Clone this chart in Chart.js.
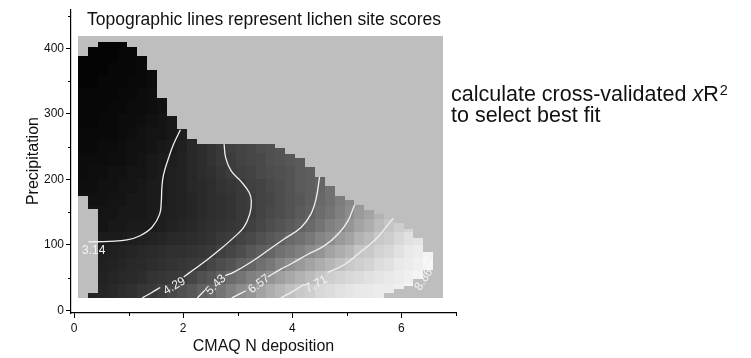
<!DOCTYPE html>
<html>
<head>
<meta charset="utf-8">
<script src="https://cdn.jsdelivr.net/npm/chart.js@4/dist/chart.umd.min.js"></script>
<style>
  html, body { margin: 0; padding: 0; background: #ffffff; }
  #wrap { width: 751px; height: 358px; }
</style>
</head>
<body>
<div id="wrap"><canvas id="chart" width="751" height="358"></canvas></div>
<script>
// ---- data ---------------------------------------------------------------

// CMAQ N deposition bin centres of the fitted surface
const depositionBins = [0.17, 0.35, 0.53, 0.71, 0.89, 1.07, 1.25, 1.43, 1.61, 1.80,
  1.98, 2.16, 2.34, 2.52, 2.70, 2.88, 3.06, 3.24, 3.42, 3.60,
  3.78, 3.96, 4.14, 4.33, 4.51, 4.69, 4.87, 5.05, 5.23, 5.41,
  5.59, 5.77, 5.95, 6.13, 6.31, 6.49];

// precipitation band centres of the fitted surface
const precipBands = [30, 50, 70, 90, 110, 130, 150, 170, 190, 210,
  230, 250, 270, 290, 310, 330, 350, 370, 390, 410];

// precipitation spans covered by the surface in each deposition bin
const binCoverage = [
  [[175, 388]], [[19, 26], [155, 402]], [[19, 410]], [[19, 410]], [[19, 410]],
  [[19, 402]], [[19, 388]], [[19, 367]], [[19, 325]], [[19, 297]],
  [[19, 277]], [[19, 261]], [[19, 254]], [[19, 254]], [[19, 254]],
  [[19, 254]], [[19, 254]], [[19, 254]], [[19, 254]], [[19, 254]],
  [[19, 248]], [[19, 239]], [[19, 232]], [[19, 219]], [[19, 204]],
  [[19, 190]], [[19, 175]], [[19, 168]], [[19, 161]], [[19, 154]],
  [[19, 147]], [[26, 141]], [[33, 133]], [[38, 124]], [[48, 111]],
  [[62, 89]]
];

// extent of the modelled window (deposition, precipitation)
const surfaceDeposition = [0.079, 6.765];
const surfacePrecip = [19, 418.6];

// fitted lichen site score: one row per precipitation band, one entry per deposition bin
const siteScores = [
  [null,3.4,3.5,3.6,3.8,3.9,4.1,4.2,4.4,4.7,4.9,5.1,5.4,5.6,5.9,6.2,6.5,6.7,7.0,7.2,7.4,7.6,7.8,7.9,8.1,8.2,8.3,8.4,8.5,8.5,8.6,8.6,8.7,8.8],
  [null,null,3.4,3.5,3.6,3.7,3.8,4.0,4.1,4.2,4.3,4.6,4.9,5.1,5.4,5.7,5.9,6.2,6.4,6.7,6.9,7.1,7.3,7.5,7.7,7.9,8.0,8.1,8.2,8.3,8.4,8.5,8.6,8.7,8.8],
  [null,null,3.3,3.4,3.5,3.6,3.7,3.8,3.9,4.0,4.1,4.2,4.3,4.6,4.8,5.0,5.3,5.5,5.8,6.0,6.3,6.6,6.8,7.0,7.2,7.4,7.6,7.8,7.9,8.0,8.2,8.3,8.5,8.6,8.7,8.9],
  [null,null,3.2,3.3,3.4,3.5,3.6,3.7,3.8,3.9,3.9,4.0,4.1,4.2,4.4,4.6,4.8,5.1,5.3,5.5,5.8,6.0,6.2,6.5,6.7,7.0,7.2,7.4,7.7,7.8,8.0,8.1,8.3,8.5,8.6,8.8],
  [null,null,3.1,3.1,3.1,3.2,3.3,3.4,3.5,3.6,3.7,3.8,3.9,4.0,4.2,4.3,4.5,4.7,4.9,5.1,5.3,5.6,5.8,6.0,6.3,6.5,6.8,7.0,7.3,7.5,7.8,7.9,8.1,8.3,8.4],
  [null,null,2.9,3.0,3.0,3.1,3.1,3.1,3.2,3.4,3.5,3.6,3.8,3.9,4.0,4.1,4.2,4.4,4.6,4.8,5.0,5.2,5.4,5.6,5.9,6.2,6.4,6.7,7.0,7.2,7.5,7.7,7.9,8.0],
  [null,2.9,2.9,2.9,3.0,3.0,3.0,3.1,3.2,3.3,3.4,3.5,3.7,3.8,3.9,4.0,4.2,4.3,4.5,4.7,4.8,5.0,5.2,5.4,5.7,5.9,6.2,6.5,6.8,7.0,7.3,7.5],
  [2.8,2.8,2.8,2.9,2.9,3.0,3.0,3.1,3.1,3.3,3.4,3.5,3.7,3.8,3.9,4.0,4.2,4.3,4.5,4.6,4.8,5.0,5.1,5.3,5.6,5.8,6.1,6.4,6.7],
  [2.7,2.7,2.8,2.8,2.9,2.9,3.0,3.1,3.1,3.3,3.4,3.6,3.7,3.8,4.0,4.1,4.2,4.4,4.5,4.7,4.8,5.0,5.2,5.3,5.5,5.8],
  [2.6,2.7,2.7,2.8,2.8,2.9,2.9,3.0,3.1,3.3,3.4,3.6,3.8,3.9,4.1,4.3,4.4,4.5,4.7,4.8,4.9,5.0,5.2,5.3,5.4],
  [2.6,2.6,2.6,2.7,2.7,2.8,2.9,3.0,3.1,3.2,3.4,3.6,3.8,4.0,4.2,4.3,4.5,4.6,4.7,4.9,5.0,5.1,5.2],
  [2.5,2.5,2.6,2.6,2.7,2.8,2.8,2.9,3.0,3.1,3.3,3.6,3.8,4.0,4.2,4.4,4.5,4.6,4.8,4.9,5.0],
  [2.5,2.5,2.5,2.5,2.6,2.7,2.8,2.9,2.9,3.0,3.2,3.4],
  [2.4,2.4,2.5,2.5,2.6,2.6,2.7,2.8,2.9,3.0],
  [2.4,2.4,2.4,2.5,2.5,2.6,2.6,2.7,2.8],
  [2.4,2.4,2.4,2.4,2.5,2.5,2.6,2.7,2.8],
  [2.3,2.3,2.4,2.4,2.4,2.5,2.5,2.6],
  [2.3,2.3,2.3,2.4,2.4,2.4,2.5,2.6],
  [2.3,2.3,2.3,2.3,2.4,2.4,2.5],
  [null,2.3,2.3,2.3,2.3,2.4]
];

// contour levels of the site score and their traced paths (null = break for the label)
const contourLevels = [3.14, 4.29, 5.43, 6.57, 7.71, 8.86];
const contourPaths = [
  [[0.26,104.5],[0.66,105.5],[0.97,107.6],[1.21,114],[1.43,127],[1.57,147],[1.60,167],[1.61,187],[1.64,207],[1.73,232],[1.82,253],[1.95,276]],
  [[1.25,19],[1.42,27],[1.58,35],null,[2.01,51],[2.19,62],[2.44,77.3],[2.69,94],[2.93,111.5],[3.11,126.7],[3.22,147],[3.25,167],[3.21,180],[3.06,197],[2.88,213],[2.78,233],[2.75,254]],
  [[2.26,19],[2.40,31],null,[2.77,53],[2.93,58.5],[3.24,73.6],[3.55,91.4],[3.85,109],[4.16,126.7],[4.34,147],[4.44,172],[4.50,204]],
  [[2.89,19],[3.15,30],null,[3.55,51],[3.79,63],[3.98,71.2],[4.28,85.3],[4.59,98.9],[4.84,116.7],[5.02,136.8],[5.14,161]],
  [[3.79,19],[4.02,29.5],[4.22,40],null,[4.65,58],[4.96,70],[5.26,90],[5.51,107],[5.69,124],[5.85,141]],
  [[6.40,62],[6.58,87]]
];

// axis tick values
const xTickValues = [0, 1, 2, 3, 4, 5, 6, 7];
const yTickValues = [0, 50, 100, 150, 200, 250, 300, 350, 400, 450];

// ---- presentation -------------------------------------------------------

const FONT = '"Liberation Sans", Arial, Helvetica, sans-serif';
Chart.defaults.font.family = FONT;
Chart.defaults.color = '#111111';

// score -> grey level ramp of the surface
const greyRamp = [[2.3,4],[2.7,14],[3.14,28],[3.7,42],[4.29,60],[4.9,80],[5.43,98],[6.0,120],
  [6.57,143],[7.14,170],[7.71,197],[8.3,225],[8.86,246],[9.2,252]];
function scoreColour(v) {
  let g = greyRamp[greyRamp.length - 1][1];
  if (v <= greyRamp[0][0]) g = greyRamp[0][1];
  else {
    for (let i = 1; i < greyRamp.length; i++) {
      if (v <= greyRamp[i][0]) {
        const [v0, g0] = greyRamp[i - 1], [v1, g1] = greyRamp[i];
        g = g0 + (g1 - g0) * (v - v0) / (v1 - v0);
        break;
      }
    }
  }
  g = Math.round(g);
  return `rgb(${g},${g},${g})`;
}

// label placement for each contour level (data units, rotation in degrees)
const contourLabelSpots = [
  { x: 0.36, y: 91, angle: 0 },
  { x: 1.84, y: 37, angle: -31 },
  { x: 2.60, y: 39, angle: -45 },
  { x: 3.39, y: 40, angle: -37 },
  { x: 4.44, y: 40, angle: -28 },
  { x: 6.41, y: 47, angle: -57 }
];

const surfacePlugin = {
  id: 'surface',
  beforeDatasetsDraw(chart) {
    const { ctx, scales: { x, y } } = chart;
    ctx.save();
    // modelled window
    const wx0 = Math.round(x.getPixelForValue(surfaceDeposition[0]));
    const wx1 = Math.round(x.getPixelForValue(surfaceDeposition[1]));
    const wy0 = Math.round(y.getPixelForValue(surfacePrecip[1]));
    const wy1 = Math.round(y.getPixelForValue(surfacePrecip[0]));
    ctx.fillStyle = '#bebebe';
    ctx.fillRect(wx0, wy0, wx1 - wx0, wy1 - wy0);

    const n = depositionBins.length;
    const edges = [];
    edges.push(depositionBins[0] - (depositionBins[1] - depositionBins[0]) / 2);
    for (let i = 1; i < n; i++) edges.push((depositionBins[i - 1] + depositionBins[i]) / 2);
    edges.push(depositionBins[n - 1] + (depositionBins[n - 1] - depositionBins[n - 2]) / 2);

    const m = precipBands.length;
    for (let i = 0; i < n; i++) {
      const px0 = Math.round(x.getPixelForValue(edges[i]));
      const px1 = Math.round(x.getPixelForValue(edges[i + 1]));
      for (const [lo, hi] of binCoverage[i]) {
        for (let j = 0; j < m; j++) {
          const v = siteScores[j][i];
          if (v === null || v === undefined) continue;
          const b0 = j === 0 ? -Infinity : (precipBands[j - 1] + precipBands[j]) / 2;
          const b1 = j === m - 1 ? Infinity : (precipBands[j] + precipBands[j + 1]) / 2;
          const c0 = Math.max(lo, b0), c1 = Math.min(hi, b1);
          if (c1 <= c0) continue;
          const py0 = Math.round(y.getPixelForValue(c1));
          const py1 = Math.round(y.getPixelForValue(c0));
          ctx.fillStyle = scoreColour(v);
          ctx.fillRect(px0, py0, px1 - px0, py1 - py0);
        }
      }
    }
    ctx.restore();
  },
  afterDatasetsDraw(chart) {
    const { ctx, scales: { x, y } } = chart;
    ctx.save();
    ctx.fillStyle = '#f4f4f4';
    ctx.font = `12px ${FONT}`;
    ctx.textAlign = 'center';
    ctx.textBaseline = 'middle';
    contourLevels.forEach((lev, k) => {
      const spot = contourLabelSpots[k];
      ctx.save();
      ctx.translate(x.getPixelForValue(spot.x), y.getPixelForValue(spot.y));
      ctx.rotate(spot.angle * Math.PI / 180);
      ctx.fillText(lev.toFixed(2), 0, 0);
      ctx.restore();
    });
    ctx.restore();
  },
  afterDraw(chart) {
    const { ctx, chartArea, scales: { x, y } } = chart;
    ctx.save();
    // minor tick marks
    ctx.strokeStyle = '#000000';
    ctx.lineWidth = 1;
    ctx.beginPath();
    xTickValues.filter(v => v % 2 !== 0).forEach(v => {
      const px = Math.round(x.getPixelForValue(v)) + 0.5;
      ctx.moveTo(px, chartArea.bottom);
      ctx.lineTo(px, chartArea.bottom + 3);
    });
    yTickValues.filter(v => v % 100 !== 0).forEach(v => {
      const py = Math.round(y.getPixelForValue(v)) + 0.5;
      ctx.moveTo(chartArea.left - 3, py);
      ctx.lineTo(chartArea.left, py);
    });
    ctx.stroke();

    // heading inside the plot
    ctx.fillStyle = '#111111';
    ctx.font = `17.5px ${FONT}`;
    ctx.textAlign = 'center';
    ctx.textBaseline = 'middle';
    ctx.fillText('Topographic lines represent lichen site scores', 264, 20);

    // side note
    const SIZE = 21.5;
    ctx.textAlign = 'left';
    ctx.textBaseline = 'alphabetic';
    let tx = 451;
    const part1 = 'calculate cross-validated ';
    ctx.font = `${SIZE}px ${FONT}`;
    ctx.fillText(part1, tx, 101);
    tx += ctx.measureText(part1).width;
    ctx.font = `italic ${SIZE}px ${FONT}`;
    ctx.fillText('x', tx, 101);
    tx += ctx.measureText('x').width;
    ctx.font = `${SIZE}px ${FONT}`;
    ctx.fillText('R', tx, 101);
    tx += ctx.measureText('R').width + 1;
    ctx.font = `14.5px ${FONT}`;
    ctx.fillText('2', tx, 94.5);
    ctx.font = `${SIZE}px ${FONT}`;
    ctx.fillText('to select best fit', 451, 122);
    ctx.restore();
  }
};

const contourDatasets = contourLevels.map((lev, k) => ({
  label: lev.toFixed(2),
  data: contourPaths[k].map((p, idx, arr) =>
    p ? { x: p[0], y: p[1] } : { x: arr[idx - 1][0], y: null }),
  showLine: true,
  spanGaps: false,
  borderColor: '#f0f0f0',
  borderWidth: 1.3,
  pointRadius: 0,
  tension: 0.4,
  fill: false
}));

new Chart(document.getElementById('chart'), {
  type: 'scatter',
  data: { datasets: contourDatasets },
  options: {
    responsive: false,
    animation: false,
    devicePixelRatio: 1,
    events: [],
    layout: { padding: { top: 7, right: 295, bottom: 0, left: 0 } },
    plugins: { legend: { display: false }, tooltip: { enabled: false }, title: { display: false } },
    scales: {
      x: {
        type: 'linear',
        min: -0.055,
        max: 7,
        afterFit(scale) { scale.height = 45; },
        afterBuildTicks(scale) { scale.ticks = xTickValues.map(v => ({ value: v })); },
        grid: {
          drawOnChartArea: false,
          drawTicks: true,
          tickLength: 5,
          tickWidth: 1,
          tickColor: (c) => (c.tick && c.tick.value % 2 === 0) ? '#000000' : 'rgba(0,0,0,0)'
        },
        border: { display: true, color: '#000000', width: 1.2 },
        ticks: {
          autoSkip: false,
          maxRotation: 0,
          padding: 3,
          font: { size: 12 },
          color: '#111111',
          callback: (v) => (v % 2 === 0 ? String(v) : '')
        },
        title: {
          display: true,
          text: 'CMAQ N deposition',
          font: { size: 16 },
          color: '#111111',
          padding: { top: 0, bottom: 2 }
        }
      },
      y: {
        type: 'linear',
        min: -4,
        max: 460,
        afterFit(scale) { scale.width = 71; },
        afterBuildTicks(scale) { scale.ticks = yTickValues.map(v => ({ value: v })); },
        grid: {
          drawOnChartArea: false,
          drawTicks: true,
          tickLength: 5,
          tickWidth: 1,
          tickColor: (c) => (c.tick && c.tick.value % 100 === 0) ? '#000000' : 'rgba(0,0,0,0)'
        },
        border: { display: true, color: '#000000', width: 1.2 },
        ticks: {
          autoSkip: false,
          padding: 2,
          font: { size: 12 },
          color: '#111111',
          callback: (v) => (v % 100 === 0 ? String(v) : '')
        },
        title: {
          display: true,
          text: 'Precipitation',
          font: { size: 16 },
          color: '#111111',
          padding: { top: 24, bottom: 0 }
        }
      }
    }
  },
  plugins: [surfacePlugin]
});
</script>
</body>
</html>
